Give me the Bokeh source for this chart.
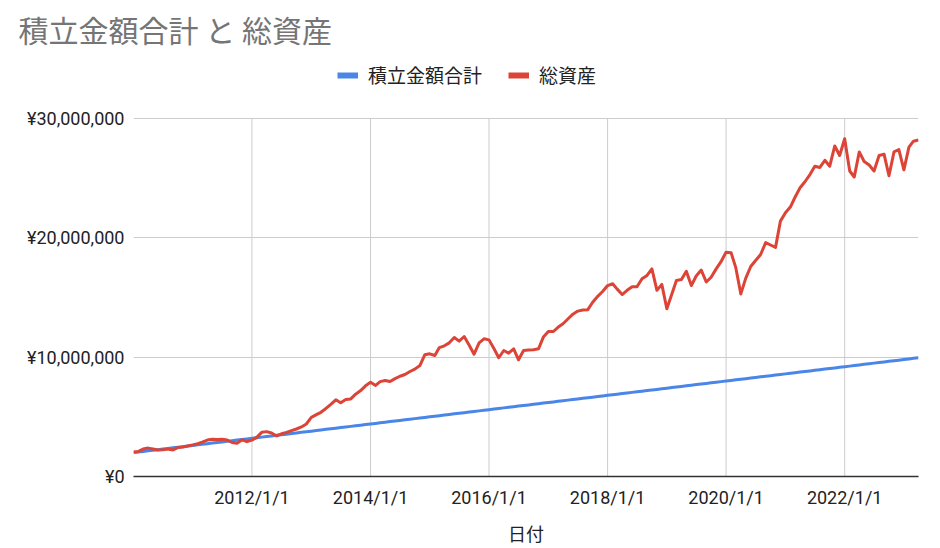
import pandas as pd
from bokeh.plotting import figure
from bokeh.models import Range1d, FixedTicker, Legend, LegendItem, Title
from bokeh.embed import file_html
from bokeh.resources import INLINE

# ---------------- data ----------------
title_text = "積立金額合計 と 総資産"
x_title = "日付"
series_names = ["積立金額合計", "総資産"]

start_date = "2010-01-01"
n_months = 160
dates = pd.date_range(start_date, periods=n_months, freq="MS")

# 積立金額合計 (unit: 10,000 yen)
contrib_man = [
    200, 205, 210, 215, 220, 225, 230, 235, 240, 245, 250, 255,
    260, 265, 270, 275, 280, 285, 290, 295, 300, 305, 310, 315,
    320, 325, 330, 335, 340, 345, 350, 355, 360, 365, 370, 375,
    380, 385, 390, 395, 400, 405, 410, 415, 420, 425, 430, 435,
    440, 445, 450, 455, 460, 465, 470, 475, 480, 485, 490, 495,
    500, 505, 510, 515, 520, 525, 530, 535, 540, 545, 550, 555,
    560, 565, 570, 575, 580, 585, 590, 595, 600, 605, 610, 615,
    620, 625, 630, 635, 640, 645, 650, 655, 660, 665, 670, 675,
    680, 685, 690, 695, 700, 705, 710, 715, 720, 725, 730, 735,
    740, 745, 750, 755, 760, 765, 770, 775, 780, 785, 790, 795,
    800, 805, 810, 815, 820, 825, 830, 835, 840, 845, 850, 855,
    860, 865, 870, 875, 880, 885, 890, 895, 900, 905, 910, 915,
    920, 925, 930, 935, 940, 945, 950, 955, 960, 965, 970, 975,
    980, 985, 990, 995,
]

# 総資産 (unit: 10,000 yen)
assets_man = [
    205, 210, 230, 238, 230, 222, 225, 230, 222, 242, 248, 255,
    265, 275, 288, 305, 312, 310, 312, 305, 285, 278, 308, 292,
    305, 330, 370, 376, 365, 340, 358, 370, 385, 398, 415, 440,
    495, 518, 538, 570, 605, 643, 618, 645, 650, 690, 720, 760,
    790, 763, 795, 805, 796, 820, 840, 855, 880, 900, 930, 1020,
    1028, 1014, 1080, 1095, 1120, 1165, 1134, 1173, 1100, 1025, 1120, 1154,
    1145, 1070, 995, 1056, 1034, 1070, 978, 1056, 1060, 1062, 1070, 1168,
    1215, 1215, 1250, 1280, 1320, 1360, 1386, 1395, 1398, 1460, 1510, 1550,
    1600, 1615, 1570, 1525, 1560, 1590, 1590, 1657, 1685, 1740, 1560, 1610,
    1406, 1530, 1643, 1650, 1720, 1600, 1680, 1730, 1630, 1670, 1740, 1800,
    1880, 1875, 1750, 1530, 1660, 1760, 1810, 1860, 1960, 1940, 1920, 2140,
    2210, 2260, 2340, 2420, 2470, 2530, 2600, 2590, 2650, 2600, 2770, 2690,
    2830, 2560, 2510, 2720, 2640, 2610, 2560, 2690, 2700, 2520, 2720, 2740,
    2570, 2760, 2810, 2820,
]

x_tick_dates = ["2012-01-01", "2014-01-01", "2016-01-01", "2018-01-01", "2020-01-01", "2022-01-01"]
x_tick_labels = ["2012/1/1", "2014/1/1", "2016/1/1", "2018/1/1", "2020/1/1", "2022/1/1"]
y_ticks = [0, 10000000, 20000000, 30000000]
y_tick_labels = ["¥0", "¥10,000,000", "¥20,000,000", "¥30,000,000"]

# ---------------- plot ----------------
contrib = [v * 10000 for v in contrib_man]
assets = [v * 10000 for v in assets_man]

def ms(d):
    return pd.Timestamp(d).value // 10**6

x_start = ms(dates[0])
x_end = ms(dates[-1])
y_max = y_ticks[-1]

# frame spans y = 55..476 px; the value axis top (y_max) sits at 118 px,
# the band above it holds the legend
FRAME_TOP, AXIS_TOP, FRAME_BOTTOM = 55, 118, 476
y_range_end = y_max * (FRAME_BOTTOM - FRAME_TOP) / (FRAME_BOTTOM - AXIS_TOP)

CJK = "'Noto Sans CJK JP'"
LATIN = "Roboto, 'Noto Sans CJK JP'"

p = figure(width=940, height=548, x_axis_type="datetime",
           x_range=Range1d(x_start, x_end), y_range=Range1d(0, y_range_end),
           output_backend="svg", toolbar_location=None,
           min_border_left=133, min_border_right=22,
           min_border_top=FRAME_TOP, min_border_bottom=548 - FRAME_BOTTOM)
p.outline_line_color = None
p.background_fill_color = "white"
p.border_fill_color = "white"

blue = "#4A86E8"
red = "#DB4437"
grid_color = "#cccccc"

# vertical grid lines, stopping at the top of the value axis
tick_dt = pd.to_datetime(x_tick_dates)
p.segment(x0=tick_dt, y0=[y_ticks[0]] * len(tick_dt), x1=tick_dt, y1=[y_max] * len(tick_dt),
          line_color=grid_color, line_width=1)

p.line(dates, contrib, line_color=blue, line_width=3, line_join="round")
p.line(dates, assets, line_color=red, line_width=3, line_join="round")

# legend swatch renderers (hidden, thicker)
lb = p.line(dates, contrib, line_color=blue, line_width=6, visible=False)
lr = p.line(dates, assets, line_color=red, line_width=6, visible=False)

x_ticks_ms = [float(ms(d)) for d in x_tick_dates]
p.xaxis.ticker = FixedTicker(ticks=x_ticks_ms)
p.xaxis.major_label_overrides = {t: l for t, l in zip(x_ticks_ms, x_tick_labels)}
p.xgrid.visible = False
p.yaxis.ticker = FixedTicker(ticks=y_ticks)
p.ygrid.ticker = FixedTicker(ticks=y_ticks)
p.yaxis.major_label_overrides = {t: l for t, l in zip(y_ticks, y_tick_labels)}

for ax in (p.xaxis[0], p.yaxis[0]):
    ax.major_tick_line_color = None
    ax.minor_tick_line_color = None
    ax.major_tick_out = 0
    ax.major_tick_in = 0
    ax.minor_tick_out = 0
    ax.major_label_text_font = LATIN
    ax.major_label_text_font_size = "18px"
    ax.major_label_text_color = "#222222"

p.xaxis.axis_line_color = "#333333"
p.xaxis.axis_line_width = 1.5
p.xaxis.major_label_standoff = 10
p.xaxis.axis_label = x_title
p.xaxis.axis_label_text_font = CJK
p.xaxis.axis_label_text_font_size = "18px"
p.xaxis.axis_label_text_font_style = "normal"
p.xaxis.axis_label_text_color = "#222222"
p.xaxis.axis_label_standoff = 9
p.yaxis.axis_line_color = None
p.yaxis.major_label_standoff = 9

p.ygrid.grid_line_color = grid_color

legend = Legend(items=[LegendItem(label=series_names[0], renderers=[lb]),
                       LegendItem(label=series_names[1], renderers=[lr])],
                location=(204, FRAME_BOTTOM - 88), orientation="horizontal",
                border_line_color=None, background_fill_alpha=0,
                inactive_fill_alpha=0,
                padding=0, margin=0, glyph_width=21, glyph_height=20,
                label_height=20, label_standoff=10, spacing=26,
                label_text_font=CJK, label_text_font_size="19px",
                label_text_color="#222222", label_text_baseline="middle")
p.add_layout(legend)

p.add_layout(Title(text=title_text, align="left", offset=-115,
                   vertical_align="middle", standoff=8,
                   text_font=CJK, text_font_size="30px",
                   text_font_style="normal", text_color="#757575"), "above")

open("out.html", "w").write(file_html(p, INLINE))
